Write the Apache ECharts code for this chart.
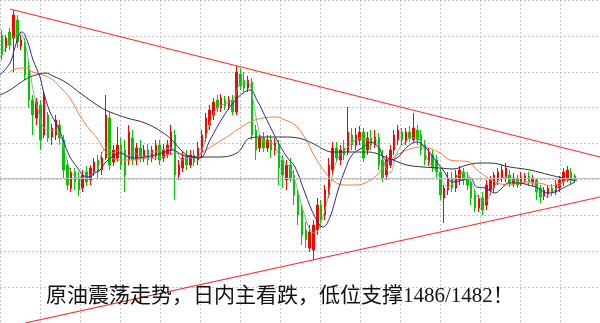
<!DOCTYPE html>
<html><head><meta charset="utf-8">
<script src="https://cdn.jsdelivr.net/npm/echarts@6/dist/echarts.min.js"></script>
<style>html,body{margin:0;padding:0;background:#fff}#c{width:600px;height:323px}</style>
</head><body><div id="c"></div>
<script>
// Candles: [open, close, low, high]
const candles = [
[1506.5,1504.5,1504.0,1507.0],[1505.2,1506.2,1504.8,1506.5],[1506.8,1505.5,1505.0,1507.2],[1506.2,1508.5,1502.8,1509.0],
[1508.0,1505.8,1505.2,1508.5],[1505.4,1506.0,1505.0,1506.5],[1505.8,1502.5,1502.0,1506.2],[1503.0,1500.0,1499.2,1504.0],
[1500.0,1498.5,1496.5,1500.5],[1498.2,1499.8,1497.5,1500.2],[1499.5,1496.0,1495.0,1500.0],[1496.5,1500.5,1496.2,1500.8],
[1498.5,1496.2,1495.8,1498.8],[1496.3,1497.2,1495.5,1497.6],[1496.5,1498.0,1496.0,1498.5],[1497.5,1496.2,1495.5,1498.0],
[1496.0,1493.0,1492.2,1496.5],[1493.5,1491.5,1491.0,1494.0],[1491.2,1492.8,1490.8,1493.2],[1492.8,1491.8,1491.0,1493.2],
[1492.2,1491.0,1490.4,1492.8],[1491.2,1492.5,1490.8,1493.0],[1492.8,1491.8,1491.4,1493.4],[1492.0,1493.2,1491.5,1493.5],
[1492.8,1493.8,1492.4,1494.2],[1494.0,1492.8,1492.2,1494.5],[1493.0,1494.2,1492.5,1494.8],[1494.2,1498.5,1494.0,1500.5],
[1498.2,1493.5,1493.0,1498.8],[1493.8,1495.0,1493.4,1495.5],[1494.2,1495.5,1493.8,1497.3],[1495.5,1493.5,1493.0,1496.2],
[1495.0,1492.5,1490.8,1496.0],[1494.0,1496.8,1493.5,1497.5],[1496.2,1494.0,1493.5,1497.0],[1494.0,1495.2,1493.5,1495.7],
[1495.2,1494.2,1493.8,1496.0],[1494.2,1495.0,1493.8,1495.5],[1495.0,1494.0,1493.5,1495.6],[1494.2,1495.0,1493.8,1495.4],
[1494.4,1495.5,1494.0,1496.0],[1495.5,1494.0,1493.5,1496.0],[1494.2,1495.0,1493.8,1495.6],[1494.6,1495.5,1494.2,1496.0],
[1495.0,1496.8,1494.5,1497.5],[1496.5,1492.5,1490.0,1497.0],[1492.5,1493.5,1492.0,1494.0],[1493.2,1494.2,1492.8,1494.8],
[1494.5,1493.5,1493.0,1495.0],[1493.5,1494.5,1493.2,1495.0],[1494.5,1493.8,1493.4,1495.0],[1494.0,1495.2,1493.5,1495.8],
[1494.8,1496.5,1494.2,1497.0],[1496.2,1498.2,1495.8,1498.7],[1497.5,1499.0,1497.0,1499.5],[1498.5,1499.8,1498.0,1500.2],
[1500.0,1499.2,1498.8,1500.5],[1499.2,1500.2,1498.8,1500.6],[1500.0,1499.4,1499.0,1500.4],[1499.4,1500.0,1499.0,1500.4],
[1500.0,1498.8,1498.5,1500.5],[1498.8,1502.8,1498.5,1503.4],[1502.6,1501.4,1501.0,1503.2],[1502.0,1501.2,1500.8,1502.8],
[1501.2,1502.0,1500.8,1502.4],[1501.8,1496.5,1496.0,1502.2],[1497.0,1495.0,1494.0,1497.5],[1495.2,1496.2,1494.8,1496.5],
[1496.2,1495.2,1494.8,1496.8],[1495.2,1496.0,1494.8,1496.5],[1496.0,1495.0,1494.2,1496.5],[1495.0,1495.7,1494.5,1496.2],
[1495.5,1493.2,1491.5,1496.0],[1494.0,1492.5,1491.2,1494.5],[1492.0,1493.5,1491.0,1494.0],[1493.5,1492.2,1491.8,1494.2],
[1492.5,1490.5,1489.5,1493.0],[1490.5,1488.5,1487.5,1491.0],[1489.0,1486.5,1485.5,1489.5],[1487.0,1486.0,1485.2,1487.8],
[1485.2,1486.8,1484.8,1487.5],[1485.0,1487.5,1484.0,1488.0],[1487.0,1489.5,1486.5,1490.2],[1489.5,1488.0,1487.2,1490.0],
[1488.5,1491.0,1488.0,1491.5],[1490.5,1493.5,1490.2,1494.2],[1493.0,1495.2,1492.5,1495.8],[1495.2,1494.2,1493.8,1495.8],
[1494.0,1495.0,1493.5,1495.5],[1495.2,1494.5,1494.0,1496.0],[1494.8,1496.8,1494.5,1499.3],[1496.5,1495.5,1495.0,1497.2],
[1495.5,1496.5,1495.0,1497.2],[1496.0,1496.8,1495.5,1497.4],[1496.8,1494.2,1493.8,1497.2],[1495.0,1496.2,1494.5,1496.8],
[1496.2,1495.5,1495.0,1497.0],[1495.5,1496.3,1495.2,1497.0],[1496.2,1493.5,1493.0,1496.7],[1494.0,1492.2,1491.8,1495.0],
[1492.5,1494.0,1492.0,1494.5],[1493.5,1495.0,1493.2,1495.5],[1495.0,1496.5,1494.5,1497.0],[1496.0,1497.0,1495.5,1497.5],
[1496.8,1496.0,1495.5,1497.2],[1495.8,1496.8,1495.5,1497.2],[1496.8,1496.2,1495.8,1497.4],[1496.0,1497.2,1495.8,1498.7],
[1497.0,1496.0,1495.5,1497.5],[1496.5,1495.0,1494.5,1497.0],[1495.5,1494.0,1493.5,1496.0],[1493.8,1494.8,1493.4,1495.2],
[1494.5,1493.2,1492.8,1495.0],[1494.0,1492.8,1492.2,1494.5],[1492.8,1490.5,1490.0,1493.2],[1490.2,1491.2,1487.7,1491.5],
[1491.0,1492.2,1490.5,1492.8],[1492.2,1491.2,1490.8,1492.8],[1491.2,1492.5,1490.8,1493.0],[1492.0,1493.0,1491.5,1493.4],
[1492.8,1492.0,1491.5,1493.2],[1492.2,1491.5,1491.0,1492.8],[1491.8,1490.2,1489.5,1492.2],[1490.5,1489.2,1488.8,1491.0],
[1489.2,1490.2,1488.8,1490.5],[1490.2,1489.0,1488.5,1490.8],[1489.5,1491.5,1489.0,1492.0],[1491.0,1492.0,1490.5,1492.4],
[1491.2,1492.5,1490.8,1492.8],[1492.0,1492.8,1491.5,1493.2],[1492.2,1493.0,1491.8,1493.5],[1492.2,1493.2,1491.8,1493.7],
[1492.5,1491.7,1491.3,1493.0],[1491.7,1492.2,1491.3,1492.7],[1492.2,1491.5,1491.2,1492.5],[1491.7,1492.3,1491.4,1492.8],
[1492.0,1492.4,1491.6,1492.7],[1492.4,1491.8,1491.4,1492.8],[1491.8,1492.2,1491.4,1492.5],[1492.0,1490.8,1490.0,1492.2],
[1491.2,1490.3,1489.7,1491.5],[1490.4,1491.0,1490.0,1491.3],[1490.6,1491.2,1490.2,1491.5],[1491.2,1490.8,1490.4,1491.6],
[1490.8,1491.6,1490.5,1492.0],[1491.2,1492.0,1490.8,1492.4],[1491.8,1492.8,1491.4,1493.2],[1492.2,1493.0,1491.8,1493.4],
[1492.8,1492.0,1491.6,1493.2],[1492.4,1492.0,1491.7,1492.6]
];
// Moving averages: [bar index, price]
const maGreen = [[-0.5,1504.3],[2.9,1506.3],[4.7,1506.7],[6.0,1505.7],[7.3,1503.0],[8.1,1501.0],[9.4,1499.0],[10.7,1497.3],[12.5,1497.0],[14.3,1497.0],[15.6,1496.0],[16.9,1494.0],[18.2,1492.7],[19.8,1492.2],[22.1,1492.3],[23.7,1492.7],[25.0,1493.2],[26.0,1494.7],[27.3,1495.2],[28.9,1494.7],[30.7,1495.0],[32.5,1494.3],[34.1,1494.8],[36.4,1494.3],[39.0,1494.7],[41.6,1495.0],[43.7,1495.2],[45.5,1494.8],[46.8,1494.0],[48.4,1494.2],[50.7,1494.3],[52.3,1495.3],[54.1,1497.7],[55.9,1499.2],[58.5,1499.7],[60.1,1500.0],[61.4,1501.3],[62.7,1501.8],[64.0,1501.8],[65.3,1500.0],[66.6,1497.3],[67.9,1496.0],[70.2,1495.7],[71.8,1494.7],[73.6,1493.7],[74.9,1493.3],[76.7,1491.3],[78.3,1489.0],[80.1,1487.0],[81.4,1486.7],[83.2,1488.0],[84.8,1490.3],[86.1,1492.7],[87.4,1494.2],[89.2,1495.0],[91.0,1495.7],[93.1,1496.2],[95.2,1496.0],[96.5,1496.2],[98.3,1495.2],[99.6,1493.5],[100.9,1492.7],[102.7,1494.7],[104.8,1495.8],[106.9,1496.2],[108.7,1496.0],[110.5,1494.2],[112.6,1493.0],[114.4,1492.0],[116.0,1491.3],[118.3,1492.3],[120.4,1492.7],[122.2,1491.7],[123.8,1490.3],[125.6,1489.8],[127.4,1491.0],[129.0,1491.8],[130.8,1492.3],[132.6,1492.0],[135.2,1491.8],[137.8,1491.8],[139.4,1490.8],[141.7,1490.3],[143.8,1491.0],[145.9,1491.8],[148.2,1492.2],[149.5,1492.0]];
const maBlue = [[-0.5,1502.5],[2.1,1503.7],[3.4,1505.3],[4.7,1506.7],[5.2,1506.8],[6.5,1506.0],[8.1,1504.0],[9.9,1502.3],[10.7,1501.0],[12.5,1498.8],[14.6,1497.3],[15.9,1496.0],[17.7,1494.3],[19.5,1493.3],[21.1,1492.5],[22.4,1492.3],[24.2,1492.7],[25.5,1493.0],[26.8,1493.7],[28.6,1494.3],[30.7,1494.7],[32.5,1494.4],[34.6,1494.2],[37.2,1494.3],[39.8,1494.5],[42.4,1494.8],[44.5,1495.0],[46.8,1494.5],[49.4,1494.3],[51.5,1494.2],[54.1,1496.0],[57.5,1498.3],[60.1,1499.7],[62.7,1500.7],[64.5,1501.0],[66.3,1500.0],[68.9,1498.0],[71.5,1496.0],[74.1,1494.3],[76.2,1493.3],[78.8,1490.7],[81.4,1488.3],[83.5,1487.3],[85.3,1488.3],[87.4,1491.0],[89.2,1493.0],[91.0,1494.5],[93.6,1495.2],[96.2,1495.8],[97.8,1495.3],[100.1,1494.0],[102.7,1494.2],[105.3,1495.3],[107.9,1495.8],[109.5,1495.5],[112.1,1494.3],[114.7,1493.0],[117.3,1491.8],[119.9,1492.0],[121.7,1492.2],[123.5,1491.3],[125.6,1491.2],[128.2,1490.7],[130.0,1491.2],[131.6,1491.7],[134.2,1491.7],[136.8,1491.5],[139.4,1491.2],[141.7,1490.7],[143.8,1490.8],[146.4,1491.3],[149.0,1491.8]];
const maOrange = [[2.1,1502.8],[4.7,1503.2],[6.0,1503.2],[8.1,1502.8],[10.7,1502.5],[13.3,1502.0],[15.1,1501.3],[17.7,1500.2],[20.3,1498.4],[22.9,1497.0],[24.7,1496.2],[26.3,1495.2],[28.1,1494.3],[30.7,1494.0],[34.1,1494.0],[37.7,1494.2],[39.8,1494.2],[43.2,1494.5],[45.8,1494.7],[48.4,1494.3],[50.2,1494.2],[52.3,1494.8],[55.9,1495.7],[58.5,1496.3],[61.1,1497.0],[64.5,1497.8],[67.9,1498.2],[71.5,1498.3],[73.6,1498.0],[76.2,1497.5],[78.8,1496.2],[81.4,1494.3],[84.0,1492.8],[86.6,1491.8],[89.2,1491.5],[91.8,1491.5],[94.4,1491.7],[97.5,1492.5],[100.9,1494.0],[106.9,1495.2],[109.5,1495.3],[113.9,1494.7],[116.5,1494.0],[121.7,1493.8],[123.0,1493.2],[126.4,1492.2],[129.0,1491.7],[131.6,1491.5],[135.2,1491.7],[139.4,1491.7],[143.0,1491.4],[145.6,1491.8],[147.7,1492.0],[149.5,1492.2]];
const maBlack = [[-0.5,1500.5],[2.1,1501.0],[4.7,1501.7],[7.3,1502.3],[9.9,1502.6],[11.2,1502.7],[13.3,1502.4],[16.9,1501.7],[20.3,1500.7],[25.5,1499.3],[28.1,1498.8],[32.5,1498.2],[37.2,1497.7],[41.6,1496.8],[44.2,1496.0],[47.1,1494.8],[49.7,1494.3],[55.9,1494.3],[61.1,1494.7],[64.5,1496.2],[67.9,1496.3],[73.1,1496.3],[77.0,1496.2],[80.6,1495.7],[84.0,1495.0],[85.8,1494.8],[91.0,1494.8],[94.4,1494.8],[97.0,1494.7],[99.6,1494.3],[101.7,1494.0],[105.3,1493.5],[109.5,1493.3],[113.9,1493.2],[117.3,1493.1],[120.9,1493.5],[124.3,1493.7],[126.9,1493.7],[132.1,1493.3],[137.3,1493.0],[142.5,1492.5],[145.9,1492.2],[149.5,1491.9]];
// Triangle trend lines: [bar index, price]
const upperTrend = [[2.1,1509.1],[155.5,1494.3]];
const lowerTrend = [[6.0,1477.7],[155.5,1490.3]];
const currentPrice = 1492.2;
const slotCount = 156;
const categories = Array.from({length: slotCount}, (_, i) => String(i + 1));
const caption = '原油震荡走势，日内主看跌，低位支撑1486/1482！';

const chart = echarts.init(document.getElementById('c'), null, {renderer: 'canvas'});
const hidden = {show: false};
const grid = {type: [2, 2], color: '#c4c4c4', width: 1};
chart.setOption({
  animation: false,
  backgroundColor: '#ffffff',
  grid: [
    {left: 0, right: 0, top: 0, bottom: 0},
    {left: -2.2, top: -33.9, width: 633, height: 388.8}
  ],
  xAxis: [
    {type: 'category', gridIndex: 0, data: categories, boundaryGap: true, axisLine: hidden, axisTick: hidden, axisLabel: hidden, splitLine: hidden},
    {type: 'value', gridIndex: 0, min: -0.5, max: slotCount - 0.5, axisLine: hidden, axisTick: hidden, axisLabel: hidden, splitLine: hidden},
    {type: 'value', gridIndex: 1, min: 0, max: 15, interval: 1, axisLine: hidden, axisTick: hidden, axisLabel: hidden, splitLine: {show: true, lineStyle: grid}}
  ],
  yAxis: [
    {type: 'value', gridIndex: 0, min: 1477.7, max: 1510.0, scale: true, axisLine: hidden, axisTick: hidden, axisLabel: hidden, splitLine: hidden},
    {type: 'value', gridIndex: 1, min: 0, max: 9, interval: 1, axisLine: hidden, axisTick: hidden, axisLabel: hidden, splitLine: {show: true, lineStyle: grid}}
  ],
  series: [
    {type: 'candlestick', xAxisIndex: 0, yAxisIndex: 0, data: candles, barWidth: 2,
     itemStyle: {color: '#ff0000', color0: '#00c800', borderColor: '#ff0000', borderColor0: '#00c800', borderWidth: 1},
     markLine: {silent: true, symbol: 'none', label: {show: false}, lineStyle: {color: '#c0c0c0', type: 'solid', width: 1}, data: [{yAxis: currentPrice}]}
    },
    {type: 'line', xAxisIndex: 1, yAxisIndex: 0, data: maGreen, smooth: 0.4, showSymbol: false, lineStyle: {color: '#6fb37f', width: 1, opacity: 0.9}, z: 3},
    {type: 'line', xAxisIndex: 1, yAxisIndex: 0, data: maOrange, smooth: 0.4, showSymbol: false, lineStyle: {color: '#ff7a3c', width: 1}, z: 3},
    {type: 'line', xAxisIndex: 1, yAxisIndex: 0, data: maBlack, smooth: 0.4, showSymbol: false, lineStyle: {color: '#333333', width: 1}, z: 3},
    {type: 'line', xAxisIndex: 1, yAxisIndex: 0, data: maBlue, smooth: 0.4, showSymbol: false, lineStyle: {color: '#2a2a98', width: 1}, z: 3},
    {type: 'line', xAxisIndex: 1, yAxisIndex: 0, data: upperTrend, showSymbol: false, clip: false, lineStyle: {color: '#ff2a2a', width: 1.2}, z: 4},
    {type: 'line', xAxisIndex: 1, yAxisIndex: 0, data: lowerTrend, showSymbol: false, clip: false, lineStyle: {color: '#ff2a2a', width: 1.2}, z: 4}
  ],
  graphic: [
    {type: 'text', left: 46, top: 286, z: 10,
     style: {text: caption, fill: '#111111', font: "21px 'Liberation Serif', 'Noto Sans CJK SC'"}}
  ]
});
</script></body></html>
